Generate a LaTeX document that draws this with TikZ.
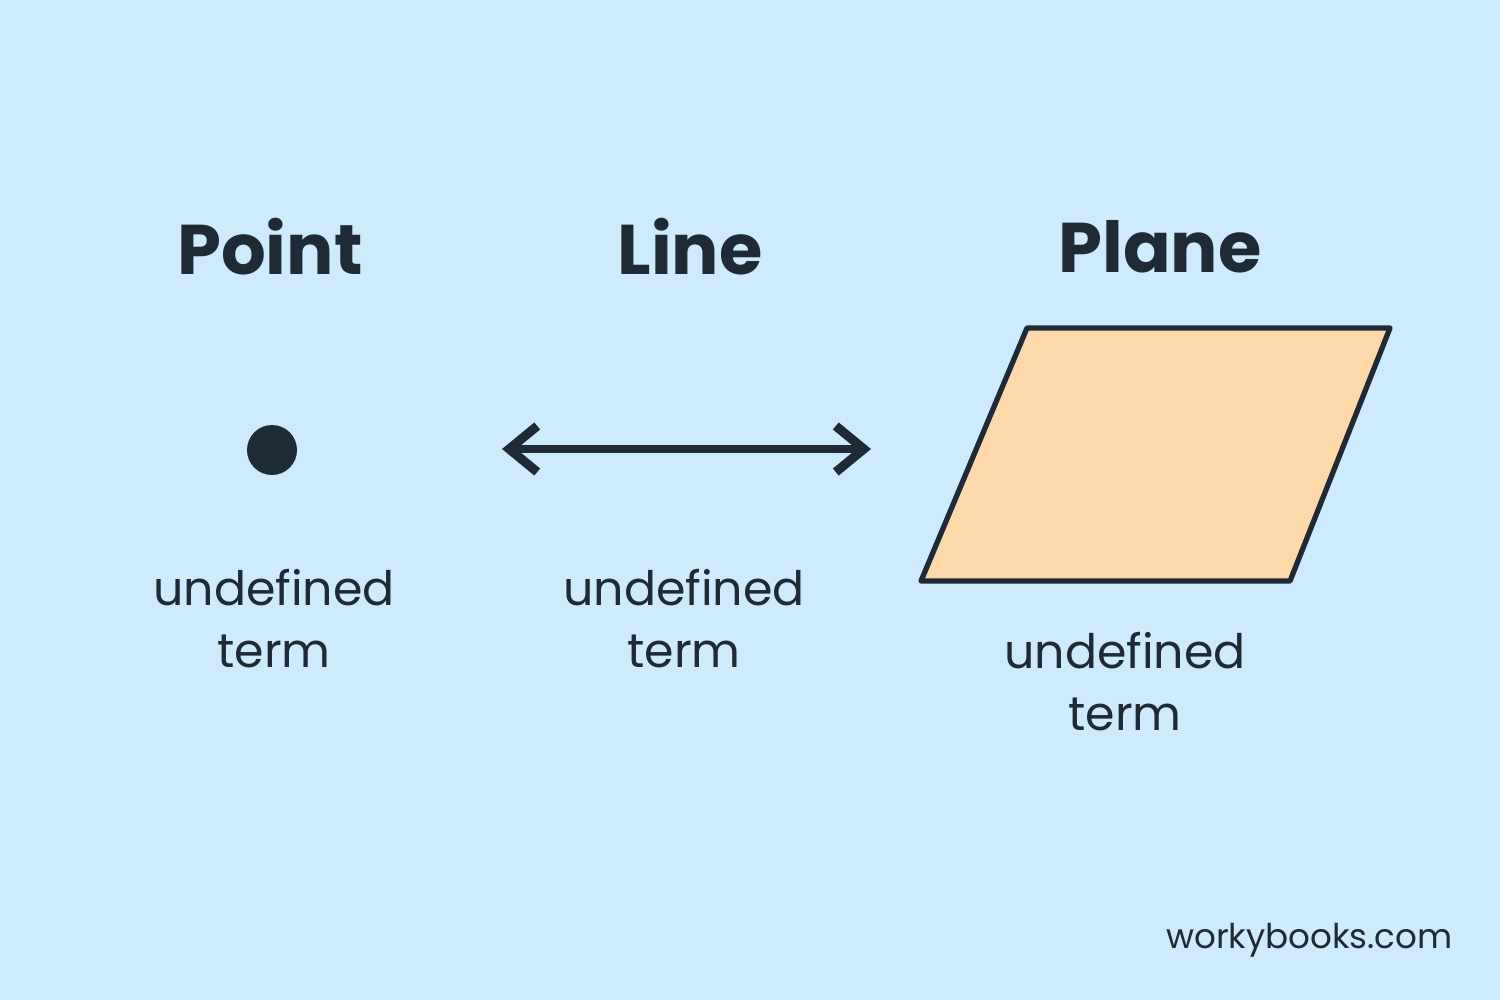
\documentclass[tikz,border=0pt]{standalone}
\usepackage{fontspec}
\setmainfont{Poppins}
\usetikzlibrary{arrows.meta, positioning}
\definecolor{bgblue}{HTML}{CDEBFC}
\definecolor{ink}{HTML}{1E2A35}
\definecolor{peach}{HTML}{FDD8AA}

\begin{document}
\begin{tikzpicture}[
    x=0.01cm, y=-0.01cm,
    title/.style={font=\fontsize{20}{24}\selectfont\bfseries, text=ink},
    term/.style={font=\fontsize{13.5}{17.6}\selectfont, text=ink, align=center},
    arrow/.style={{Straight Barb[length=2.8mm, width=4.6mm, line width=2.6pt, line join=miter]}-{Straight Barb[length=2.8mm, width=4.6mm, line width=2.6pt, line join=miter]}, line width=2pt, draw=ink}
]
    % Background
    \fill[bgblue] (0,0) rectangle (1500,1000);
    \useasboundingbox (0,0) rectangle (1500,1000);

    % Titles
    \node[title] (point) at (270,247) {Point};
    \node[title] (line) at (690,247) {Line};
    \node[title] (plane) at (1160,247) {Plane};

    % Shapes
    \fill[ink] (272,450) circle (25);
    \coordinate (lstart) at (502,449);
    \coordinate (lend) at (871,449);
    \draw[arrow] (lstart) -- (lend);
    \draw[ink, fill=peach, line width=1.5pt, line join=round]
        (1027,328) -- (1390,328) -- (1290,581) -- (921,581) -- cycle;

    % Labels
    \node[term] (pterm) at (274,619) {undefined\\term};
    \node[term] (lterm) at (684,619) {undefined\\term};
    \node[term] (plterm) at (1125,682) {undefined\\term};

    \node[font=\fontsize{9.7}{12}\selectfont, text=ink, anchor=east] (site) at (1465,940) {workybooks.com};
\end{tikzpicture}
\end{document}
